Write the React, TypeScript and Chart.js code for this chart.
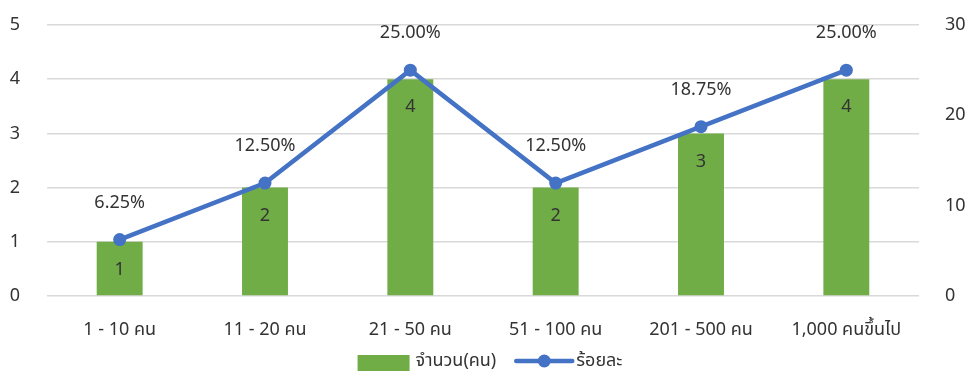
import React, { useEffect, useRef } from "react";
import { Chart, registerables } from "chart.js";

Chart.register(...registerables);

const categories = ["1 - 10 คน", "11 - 20 คน", "21 - 50 คน", "51 - 100 คน", "201 - 500 คน", "1,000 คนขึ้นไป"];
const counts = [1, 2, 4, 2, 3, 4];
const percents = [6.25, 12.5, 25, 12.5, 18.75, 25];
const countLabel = "จำนวน(คน)";
const percentLabel = "ร้อยละ";

const FONT = '"Noto Sans", "Noto Sans Thai", Tahoma, "DejaVu Sans", sans-serif';
const FS = 18;
const TEXT = "#333333";
const GREEN = "#70AD47";
const BLUE = "#4472C4";

const labelsPlugin = {
  id: "valueLabels",
  afterDatasetsDraw(chart: any) {
    const ctx = chart.ctx;
    ctx.save();
    ctx.font = `${FS}px ${FONT}`;
    ctx.fillStyle = TEXT;
    ctx.textAlign = "center";
    ctx.textBaseline = "middle";
    chart.data.datasets.forEach((ds: any, i: number) => {
      const meta = chart.getDatasetMeta(i);
      meta.data.forEach((el: any, j: number) => {
        if (ds.type === "bar") {
          ctx.fillText(String(ds.data[j]), el.x, el.y + 28);
        } else {
          ctx.fillText(ds.data[j].toFixed(2) + "%", el.x, el.y - 37);
        }
      });
    });
    ctx.restore();
  },
  afterDraw(chart: any) {
    const ctx = chart.ctx;
    ctx.save();
    ctx.font = `${FS}px ${FONT}`;
    ctx.textBaseline = "middle";
    ctx.textAlign = "left";
    const w1 = ctx.measureText(countLabel).width;
    const w2 = ctx.measureText(percentLabel).width;
    const total = 52 + 6 + w1 + 20 + 56 + 4 + w2;
    let x = 490 - total / 2;
    const cy = 361;
    ctx.fillStyle = GREEN;
    ctx.fillRect(x, 355, 52, 16);
    x += 52 + 6;
    ctx.fillStyle = TEXT;
    ctx.fillText(countLabel, x, cy);
    x += w1 + 20;
    ctx.strokeStyle = BLUE;
    ctx.lineWidth = 4.5;
    ctx.lineCap = "round";
    ctx.beginPath();
    ctx.moveTo(x, cy);
    ctx.lineTo(x + 56, cy);
    ctx.stroke();
    ctx.fillStyle = BLUE;
    ctx.beginPath();
    ctx.arc(x + 28, cy, 6.5, 0, Math.PI * 2);
    ctx.fill();
    x += 56 + 4;
    ctx.fillStyle = TEXT;
    ctx.fillText(percentLabel, x, cy);
    ctx.restore();
  },
};

export default function App() {
  const ref = useRef<HTMLCanvasElement>(null);
  useEffect(() => {
    if (!ref.current) return;
    const chart = new Chart(ref.current, {
      data: {
        labels: categories,
        datasets: [
          {
            type: "line",
            label: percentLabel,
            data: percents,
            yAxisID: "y1",
            borderColor: BLUE,
            backgroundColor: BLUE,
            borderWidth: 4.5,
            pointRadius: 6.5,
            pointBackgroundColor: BLUE,
            pointBorderColor: BLUE,
            pointBorderWidth: 0,
            tension: 0,
            order: 0,
          },
          {
            type: "bar",
            label: countLabel,
            data: counts,
            yAxisID: "y",
            backgroundColor: GREEN,
            barPercentage: 0.316,
            categoryPercentage: 1,
            order: 1,
          },
        ],
      } as any,
      options: {
        animation: false,
        responsive: false,
        maintainAspectRatio: false,
        layout: { padding: { top: 25, left: 0, right: 0, bottom: 0 }, autoPadding: false },
        plugins: { legend: { display: false }, tooltip: { enabled: false } },
        scales: {
          x: {
            grid: { display: false, drawTicks: false },
            border: { display: false },
            ticks: { color: TEXT, font: { size: FS, family: FONT }, padding: 23, maxRotation: 0, autoSkip: false },
            afterFit: (s: any) => { s.height = 76; s.paddingLeft = 0; s.paddingRight = 0; },
          },
          y: {
            position: "left",
            min: 0,
            max: 5,
            grid: { color: "#d9d9d9", lineWidth: 1.5, drawTicks: false },
            border: { display: false },
            ticks: { stepSize: 1, color: TEXT, font: { size: FS, family: FONT }, padding: 27 },
            afterFit: (s: any) => { s.width = 47; s.paddingTop = 0; s.paddingBottom = 0; },
          },
          y1: {
            position: "right",
            min: 0,
            max: 30,
            grid: { display: false, drawTicks: false },
            border: { display: false },
            ticks: { stepSize: 10, color: TEXT, font: { size: FS, family: FONT }, padding: 26 },
            afterFit: (s: any) => { s.width = 49; s.paddingTop = 0; s.paddingBottom = 0; },
          },
        },
      } as any,
      plugins: [labelsPlugin],
    });
    return () => chart.destroy();
  }, []);
  return (
    <div style={{ position: "absolute", left: 0, top: 0, width: 968, height: 372, background: "#fff" }}>
      <canvas ref={ref} width={968} height={372} style={{ display: "block" }} />
    </div>
  );
}
